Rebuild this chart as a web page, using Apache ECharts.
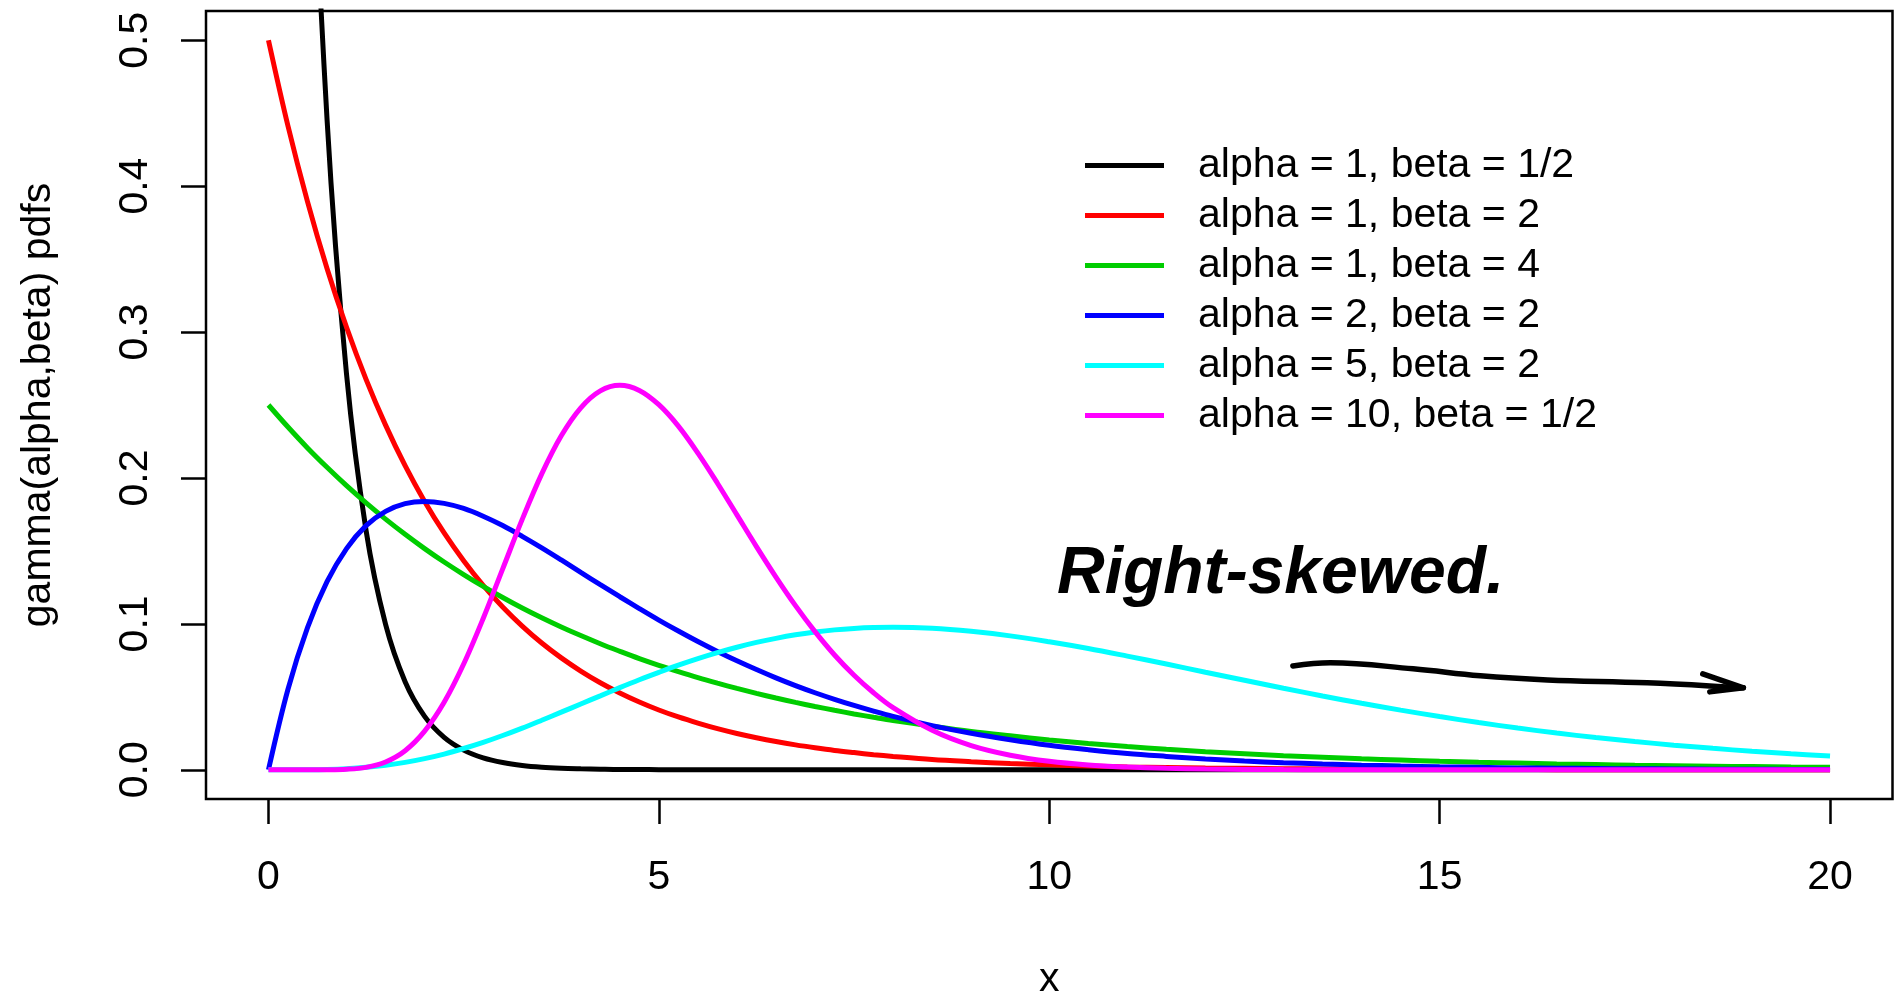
<!DOCTYPE html>
<html><head><meta charset="utf-8">
<script src="https://cdn.jsdelivr.net/npm/echarts@6/dist/echarts.min.js"></script>
<style>html,body{margin:0;padding:0;background:#fff}#c{width:1898px;height:993px}</style>
</head><body><div id="c"></div>
<script>
// x grid (shared by all curves)
const xs = [0,0.25,0.5,0.75,1,1.25,1.5,1.75,2,2.25,2.5,2.75,3,3.25,3.5,3.75,4,4.25,4.5,4.75,5,5.25,5.5,5.75,6,6.25,6.5,6.75,7,7.25,7.5,7.75,8,
  8.5,9,9.5,10,10.5,11,11.5,12,12.5,13,13.5,14,14.5,15,15.5,16,16.5,17,17.5,18,18.5,19,19.5,20];

const seriesNames = ['alpha = 1, beta = 1/2','alpha = 1, beta = 2','alpha = 1, beta = 4','alpha = 2, beta = 2','alpha = 5, beta = 2','alpha = 10, beta = 1/2'];

const black = [2,1.213,0.736,0.446,0.271,0.164,0.0996,0.0604,0.0366,0.0222,0.0135,0.0082,0.005,0.003,0.0018,0.0011,0.0007,0.0004,0.0002,0.0002,0.0001,
  0,0,0,0,0,0,0,0,0,0,0,0,
  0,0,0,0,0,0,0,0,0,0,0,0,0,0,0,0,0,0,0,0,0,0,0,0];
const red = [0.5,0.4412,0.3894,0.3436,0.3033,0.2676,0.2362,0.2084,0.1839,0.1623,0.1433,0.1264,0.1116,0.0985,0.0869,0.0767,0.0677,0.0597,0.0527,0.0465,0.041,0.0362,0.032,0.0282,0.0249,0.022,0.0194,0.0171,0.0151,0.0133,0.0118,0.0104,0.0092,
  0.0071,0.0056,0.0043,0.0034,0.0026,0.002,0.0016,0.0012,0.001,0.0008,0.0006,0.0005,0.0004,0.0003,0.0002,0.0002,0.0001,0.0001,0.0001,0.0001,0.0001,0,0,0];
const green = [0.25,0.2349,0.2206,0.2073,0.1947,0.1829,0.1718,0.1614,0.1516,0.1424,0.1338,0.1257,0.1181,0.1109,0.1042,0.0979,0.092,0.0864,0.0812,0.0762,0.0716,0.0673,0.0632,0.0594,0.0558,0.0524,0.0492,0.0462,0.0434,0.0408,0.0383,0.036,0.0338,
  0.0299,0.0263,0.0233,0.0205,0.0181,0.016,0.0141,0.0124,0.011,0.0097,0.0086,0.0075,0.0067,0.0059,0.0052,0.0046,0.004,0.0036,0.0031,0.0028,0.0025,0.0022,0.0019,0.0017];
const blue = [0,0.0552,0.0974,0.1289,0.1516,0.1673,0.1771,0.1824,0.1839,0.1826,0.1791,0.1738,0.1674,0.16,0.1521,0.1438,0.1353,0.1269,0.1186,0.1105,0.1026,0.0951,0.0879,0.0811,0.0747,0.0687,0.063,0.0577,0.0528,0.0483,0.0441,0.0402,0.0366,
  0.0303,0.025,0.0206,0.0168,0.0138,0.0112,0.0092,0.0074,0.006,0.0049,0.004,0.0032,0.0026,0.0021,0.0017,0.0013,0.0011,0.0009,0.0007,0.0006,0.0004,0.0004,0.0003,0.0002];
const cyan = [0,0.0000045,0.0000634,0.000283,0.00079,0.0017,0.0031,0.0051,0.0077,0.0108,0.0146,0.0188,0.0235,0.0286,0.034,0.0395,0.0451,0.0507,0.0563,0.0617,0.0668,0.0717,0.0762,0.0803,0.084,0.0873,0.0901,0.0925,0.0944,0.0959,0.0969,0.0975,0.0977,
  0.097,0.0949,0.0918,0.0877,0.0831,0.0779,0.0725,0.0669,0.0614,0.0559,0.0506,0.0456,0.0409,0.0365,0.0324,0.0286,0.0252,0.0221,0.0194,0.0169,0.0147,0.0127,0.011,0.0095];
const magenta = [0,0,0.000002,0.000047,0.00038,0.0017,0.0054,0.0131,0.0265,0.0463,0.0725,0.1037,0.1377,0.1716,0.2028,0.2289,0.2481,0.2597,0.2635,0.26,0.2502,0.2355,0.217,0.1964,0.1747,0.153,0.1321,0.1125,0.0947,0.0787,0.0648,0.0528,0.0426,
  0.0271,0.0166,0.01,0.0058,0.0033,0.0019,0.001,0.00055,0.00029,0.00015,0.00008,0.00004,0.00002,0.00001,0,0,0,0,0,0,0,0,0,0];

const xTicks = [0,5,10,15,20];
const yTicks = [0,0.1,0.2,0.3,0.4,0.5];

// hand-drawn annotation (data coordinates)
const noteText = 'Right-skewed.';
const noteX = 10.1, noteY = 0.129;
const arrowX = [13.12,13.6,14.66,15.52,16.38,17.66,18.89];
const arrowY = [0.0712,0.0733,0.0692,0.0644,0.0616,0.0596,0.0562];
const headX = [18.37,18.89,18.46];
const headY = [0.0658,0.0562,0.0534];

const colors = ['#000000','#FF0000','#00CD00','#0000FF','#00FFFF','#FF00FF'];
const values = [black, red, green, blue, cyan, magenta];
const FONT = '"Liberation Sans", Arial, Helvetica, sans-serif';
const FS = 41;

const chart = echarts.init(document.getElementById('c'), null, {renderer:'canvas'});
const pairs = (a, b) => a.map((x, i) => [x, b[i]]);

const series = seriesNames.map((n, i) => ({
  name: n, type: 'line', data: pairs(xs, values[i]),
  symbol: 'none', showSymbol: false, smooth: 0.35, clip: true,
  lineStyle: {color: colors[i], width: 5},
  itemStyle: {color: colors[i]}, z: 3 + i, silent: true
}));
series.push({
  name: 'arrow', type: 'line', data: pairs(arrowX, arrowY), symbol: 'none', smooth: 0.4,
  lineStyle: {color: '#000', width: 5.5, cap: 'round'}, z: 10, silent: true
});
series.push({
  name: 'arrowhead', type: 'line', data: pairs(headX, headY), symbol: 'none',
  lineStyle: {color: '#000', width: 5.5, cap: 'round', join: 'round'}, z: 10, silent: true
});

chart.setOption({
  animation: false,
  backgroundColor: '#fff',
  textStyle: {fontFamily: FONT, color: '#000'},
  grid: {left: 206, top: 11, width: 1686.5, height: 788, show: true, borderColor: '#000', borderWidth: 2.5,
    backgroundColor: 'transparent', containLabel: false, outerBoundsMode: 'none'},
  legend: {
    data: seriesNames, orient: 'vertical', left: 1080, top: 140,
    icon: 'rect', itemWidth: 79, itemHeight: 5, itemGap: 9,
    textStyle: {fontFamily: FONT, fontSize: FS, color: '#000', lineHeight: 40, padding: [0, 0, 0, 29]},
    selectedMode: false
  },
  xAxis: {
    type: 'value', min: -0.8, max: 20.8,
    name: 'x', nameLocation: 'middle', nameGap: 160,
    nameTextStyle: {fontFamily: FONT, fontSize: FS, color: '#000'},
    axisLine: {show: false, onZero: false},
    axisTick: {show: true, customValues: xTicks, length: 25, lineStyle: {color: '#000', width: 2.5}},
    axisLabel: {customValues: xTicks, fontFamily: FONT, fontSize: FS, color: '#000', margin: 58},
    splitLine: {show: false}
  },
  yAxis: {
    type: 'value', min: -0.02, max: 0.52,
    name: 'gamma(alpha,beta) pdfs', nameLocation: 'middle', nameGap: 147, nameRotate: 90,
    nameTextStyle: {fontFamily: FONT, fontSize: FS, color: '#000'},
    axisLine: {show: false, onZero: false},
    axisTick: {show: true, customValues: yTicks, length: 25, lineStyle: {color: '#000', width: 2.5}},
    axisLabel: {customValues: yTicks, rotate: 90, fontFamily: FONT, fontSize: FS, color: '#000', margin: 50,
      formatter: v => v.toFixed(1)},
    splitLine: {show: false}
  },
  series: series
});

const p = chart.convertToPixel({gridIndex: 0}, [noteX, noteY]);
chart.setOption({
  graphic: [{
    type: 'text', left: p[0], top: p[1] - 40, z: 20, silent: true,
    style: {text: noteText, fill: '#000', font: 'italic bold 66px "Liberation Sans", Arial, sans-serif'}
  }]
});
</script>
</body></html>
